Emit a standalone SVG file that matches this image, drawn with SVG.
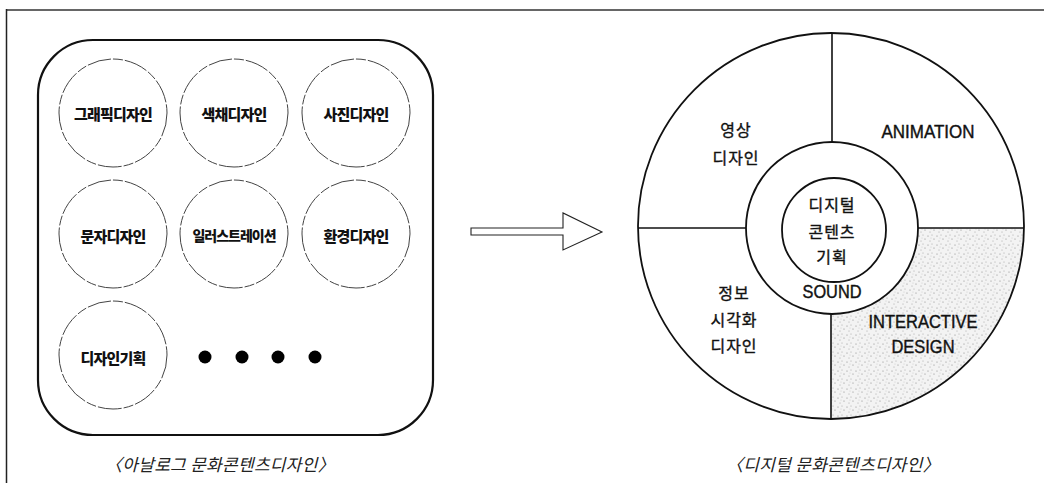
<svg xmlns="http://www.w3.org/2000/svg" width="1044" height="483" viewBox="0 0 1044 483">
<style>
  .item{fill:none;stroke:#444;stroke-width:1;stroke-dasharray:24 2 10 2}
  .lbl{font-family:"Noto Sans CJK KR","Liberation Sans",sans-serif;font-weight:900;font-size:15px;fill:#111;text-anchor:middle;dominant-baseline:central;letter-spacing:-0.8px}
  .kr{font-family:"Noto Sans CJK KR","Liberation Sans",sans-serif;font-size:16px;fill:#111;stroke:#111;stroke-width:0.35;text-anchor:middle;dominant-baseline:central;letter-spacing:1px}
  .en{font-family:"Liberation Sans","Noto Sans",sans-serif;font-size:18px;fill:#111;stroke:#111;stroke-width:0.4;text-anchor:middle;dominant-baseline:central}
  .cap{font-family:"Noto Sans CJK KR","Liberation Sans",sans-serif;font-size:17px;font-style:italic;fill:#222;text-anchor:middle;dominant-baseline:central;letter-spacing:0.3px}
  .ring{fill:none;stroke:#111;stroke-width:1.8}
  .div{stroke:#111;stroke-width:1.6}
</style>
<defs>
  <pattern id="stip" width="9" height="9" patternUnits="userSpaceOnUse">
    <rect width="9" height="9" fill="#f3f3f3"/>
    <circle cx="1" cy="2" r="0.6" fill="#888"/>
    <circle cx="5" cy="1" r="0.5" fill="#999"/>
    <circle cx="7" cy="5" r="0.6" fill="#888"/>
    <circle cx="3" cy="7" r="0.5" fill="#999"/>
    <circle cx="4" cy="4" r="0.4" fill="#aaa"/>
  </pattern>
</defs>
<rect width="1044" height="483" fill="#fff"/>
<!-- page frame -->
<line x1="7" y1="10" x2="1044" y2="10" stroke="#666" stroke-width="2"/>
<line x1="6.5" y1="9" x2="6.5" y2="483" stroke="#222" stroke-width="1.5"/>

<!-- analog panel -->
<g id="analog-panel">
  <rect x="38" y="40" width="395" height="395" rx="55" ry="55" fill="none" stroke="#111" stroke-width="2.2"/>
</g>
<g id="node-graphic"><circle class="item" cx="113" cy="113" r="54"/><text class="lbl" x="113" y="113">그래픽디자인</text></g>
<g id="node-color"><circle class="item" cx="234" cy="113" r="54"/><text class="lbl" x="234" y="113">색채디자인</text></g>
<g id="node-photo"><circle class="item" cx="356" cy="113" r="54"/><text class="lbl" x="356" y="113">사진디자인</text></g>
<g id="node-type"><circle class="item" cx="113" cy="234" r="54"/><text class="lbl" x="113" y="235">문자디자인</text></g>
<g id="node-illust"><circle class="item" cx="234" cy="234" r="54"/><text class="lbl" x="234" y="235" style="font-size:14px;letter-spacing:-1px">일러스트레이션</text></g>
<g id="node-env"><circle class="item" cx="356" cy="234" r="54"/><text class="lbl" x="356" y="235">환경디자인</text></g>
<g id="node-plan"><circle class="item" cx="113" cy="355" r="54"/><text class="lbl" x="113" y="357">디자인기획</text></g>
<g id="ellipsis" fill="#000">
  <circle cx="205" cy="357" r="6.5"/>
  <circle cx="242" cy="357" r="6.5"/>
  <circle cx="278" cy="357" r="6.5"/>
  <circle cx="315" cy="357" r="6.5"/>
</g>
<text class="cap" x="220" y="463">〈아날로그 문화콘텐츠디자인〉</text>

<!-- connectors -->
<g id="connectors">
  <polygon points="471,228 563,228 563,213 602,232 563,250 563,235 471,235" fill="#fff" stroke="#222" stroke-width="1.1" stroke-linejoin="miter"/>
</g>

<!-- digital wheel -->
<g id="node-interactive">
  <path d="M918,228 L1024,228 A193,193 0 0 1 831,419 L831,314 A86,86 0 0 0 918,228 Z" fill="url(#stip)"/>
  <text class="en" x="923" y="322" textLength="109" lengthAdjust="spacingAndGlyphs">INTERACTIVE</text>
  <text class="en" x="923" y="347" textLength="63" lengthAdjust="spacingAndGlyphs">DESIGN</text>
</g>
<g id="wheel">
  <circle class="ring" cx="831" cy="226" r="193"/>
  <line class="div" x1="832" y1="33" x2="832" y2="142"/>
  <line class="div" x1="831" y1="314" x2="831" y2="419"/>
  <line class="div" x1="638" y1="228" x2="746" y2="228"/>
  <line class="div" x1="918" y1="228" x2="1024" y2="228"/>
</g>
<g id="node-video">
  <text class="kr" x="736" y="129">영상</text>
  <text class="kr" x="736" y="157">디자인</text>
</g>
<g id="node-animation">
  <text class="en" x="928" y="132" textLength="93" lengthAdjust="spacingAndGlyphs">ANIMATION</text>
</g>
<g id="node-infovis">
  <text class="kr" x="734" y="292">정보</text>
  <text class="kr" x="734" y="319">시각화</text>
  <text class="kr" x="734" y="345">디자인</text>
</g>
<g id="node-sound">
  <circle class="ring" cx="832" cy="228" r="86" fill="#fff"/>
  <text class="en" x="832" y="292" textLength="59" lengthAdjust="spacingAndGlyphs">SOUND</text>
</g>
<g id="node-core">
  <circle class="ring" cx="834" cy="230" r="52" fill="#fff"/>
  <text class="kr" x="832" y="204">디지털</text>
  <text class="kr" x="832" y="231">콘텐츠</text>
  <text class="kr" x="832" y="256">기획</text>
</g>
<text class="cap" x="833" y="463">〈디지털 문화콘텐츠디자인〉</text>
</svg>
